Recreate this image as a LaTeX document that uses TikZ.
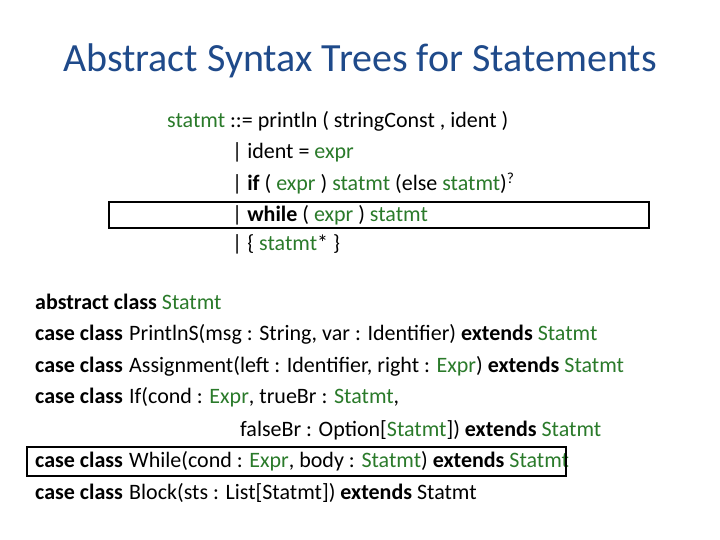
\documentclass[tikz,border=0pt]{standalone}
\usepackage{fontspec}
\setmainfont{Carlito}
\definecolor{gr}{HTML}{2A7A2A}
\definecolor{tt}{HTML}{1F4A8A}
\newcommand{\g}[1]{\textcolor{gr}{#1}}
\begin{document}
\begin{tikzpicture}[x=1pt,y=-1pt,
  ln/.style={anchor=base west,inner sep=0pt,font=\fontsize{22}{26}\selectfont},
  hl/.style={draw=black,line width=2pt}]
\useasboundingbox (0,0) rectangle (720,540);
\node[anchor=base,inner sep=0pt,text=tt,font=\fontsize{40}{46}\selectfont] (title) at (360,72) {Abstract Syntax Trees for Statements};
\node[ln] (g1) at (167,128) {\g{statmt} ::= println ( stringConst , ident )};
\node[ln] (g2) at (232,159) {| ident = \g{expr}};
\node[ln] (g3) at (232,191) {| \textbf{if} ( \g{expr} ) \g{statmt} (else \g{statmt})\textsuperscript{?}};
\node[ln] (g4) at (232,222) {| \textbf{while} ( \g{expr} ) \g{statmt}};
\node[ln] (g5) at (232,250) {| \{ \g{statmt}* \}};
\draw[hl] (109,202) rectangle (649,228);
\node[ln] (c1) at (35,309) {\textbf{abstract class} \g{Statmt}};
\node[ln] (c2) at (35,340) {\textbf{case class}};
\node[ln] at (129,340) {PrintlnS(msg : String, var : Identifier) \textbf{extends} \g{Statmt}};
\node[ln] (c3) at (35,372) {\textbf{case class}};
\node[ln] at (129,372) {Assignment(left : Identifier, right : \g{Expr}) \textbf{extends} \g{Statmt}};
\node[ln] (c4) at (35,403) {\textbf{case class}};
\node[ln] at (129,403) {If(cond : \g{Expr}, trueBr : \g{Statmt},};
\node[ln] (c5) at (240,436) {falseBr : Option[\g{Statmt}]) \textbf{extends} \g{Statmt}};
\node[ln] (c6) at (35,467) {\textbf{case class}};
\node[ln] at (129,467) {While(cond : \g{Expr}, body : \g{Statmt}) \textbf{extends} \g{Statmt}};
\node[ln] (c7) at (35,499) {\textbf{case class}};
\node[ln] at (129,499) {Block(sts : List[Statmt]) \textbf{extends} Statmt};
\draw[hl] (27,447) rectangle (566,476);
\end{tikzpicture}
\end{document}
